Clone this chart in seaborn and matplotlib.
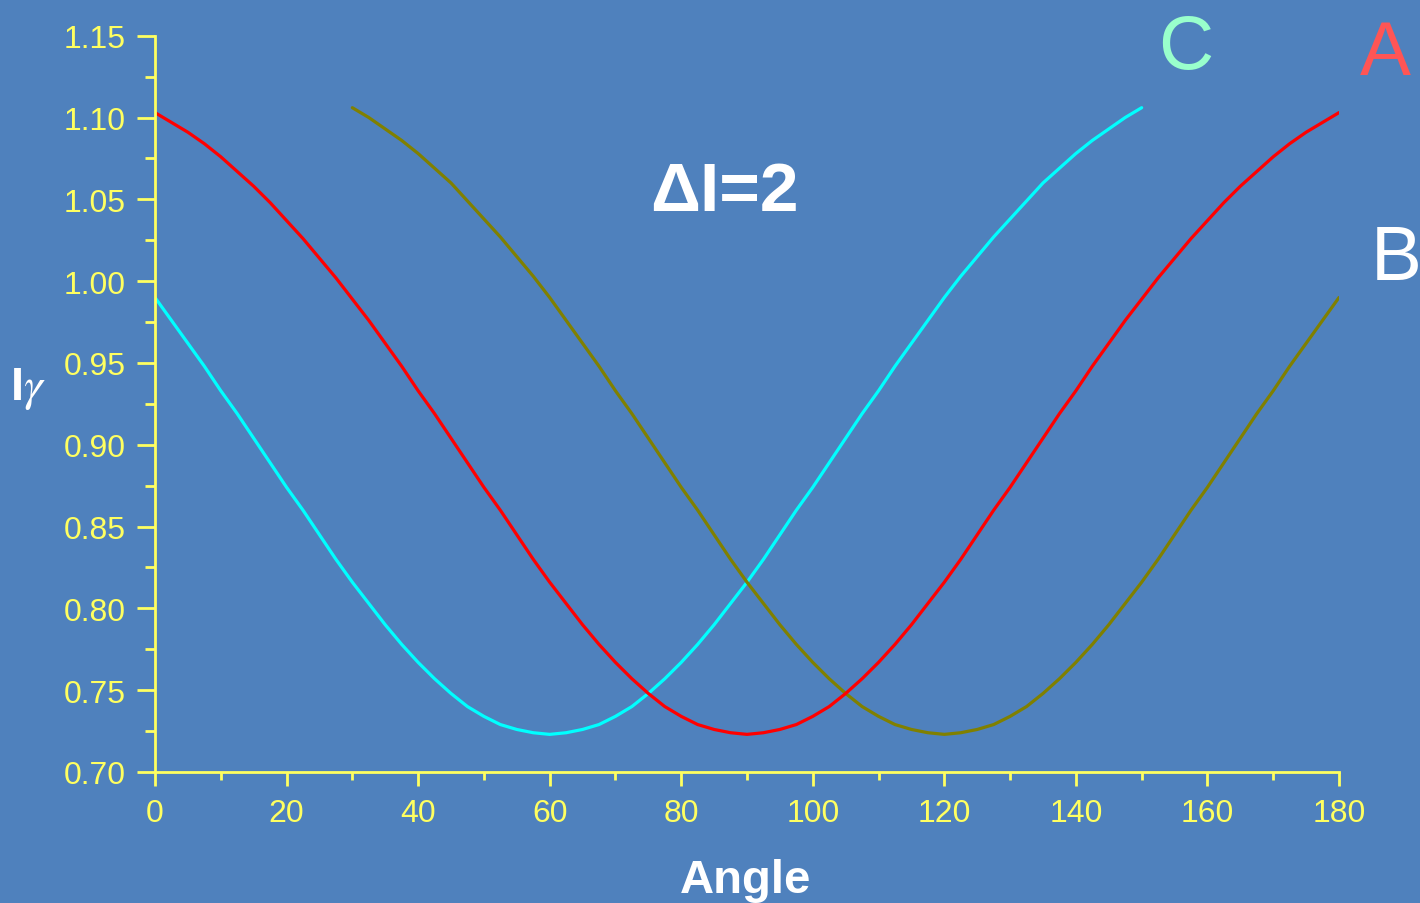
import numpy as np
import pandas as pd
import seaborn as sns
import matplotlib.pyplot as plt
from matplotlib.ticker import MultipleLocator

# curve A (red), read every 2.5 degrees, 0..180
angle_a = np.arange(0, 180.1, 2.5)
int_a = [1.103, 1.097, 1.091, 1.084, 1.076, 1.067, 1.058, 1.048, 1.037, 1.026,
         1.014, 1.002, 0.989, 0.976, 0.962, 0.948, 0.933, 0.919, 0.904, 0.889,
         0.874, 0.860, 0.845, 0.830, 0.816, 0.803, 0.790, 0.778, 0.767, 0.757,
         0.748, 0.740, 0.734, 0.729, 0.726, 0.724, 0.723, 0.724, 0.726, 0.729,
         0.734, 0.740, 0.748, 0.757, 0.767, 0.778, 0.790, 0.803, 0.816, 0.830,
         0.845, 0.860, 0.874, 0.889, 0.904, 0.919, 0.933, 0.948, 0.962, 0.976,
         0.989, 1.002, 1.014, 1.026, 1.037, 1.048, 1.058, 1.067, 1.076, 1.084,
         1.091, 1.097, 1.103]

# curve B (olive), 30..180
angle_b = np.arange(30, 180.1, 2.5)
int_b = [1.106, 1.100, 1.093, 1.086, 1.078, 1.069, 1.060, 1.049, 1.038, 1.027,
         1.015, 1.003, 0.990, 0.976, 0.962, 0.948, 0.933, 0.919, 0.904, 0.889,
         0.874, 0.860, 0.845, 0.830, 0.816, 0.803, 0.790, 0.778, 0.767, 0.757,
         0.748, 0.740, 0.734, 0.729, 0.726, 0.724, 0.723, 0.724, 0.726, 0.729,
         0.734, 0.740, 0.748, 0.757, 0.767, 0.778, 0.790, 0.803, 0.816, 0.830,
         0.845, 0.860, 0.874, 0.889, 0.904, 0.919, 0.933, 0.948, 0.962, 0.976,
         0.990]

# curve C (cyan), 0..150
angle_c = np.arange(0, 150.1, 2.5)
int_c = [0.990, 0.976, 0.962, 0.948, 0.933, 0.919, 0.904, 0.889, 0.874, 0.860,
         0.845, 0.830, 0.816, 0.803, 0.790, 0.778, 0.767, 0.757, 0.748, 0.740,
         0.734, 0.729, 0.726, 0.724, 0.723, 0.724, 0.726, 0.729, 0.734, 0.740,
         0.748, 0.757, 0.767, 0.778, 0.790, 0.803, 0.816, 0.830, 0.845, 0.860,
         0.874, 0.889, 0.904, 0.919, 0.933, 0.948, 0.962, 0.976, 0.990, 1.003,
         1.015, 1.027, 1.038, 1.049, 1.060, 1.069, 1.078, 1.086, 1.093, 1.100,
         1.106]

bg = "#4F81BD"
yellow = "#FFFF60"

sns.set_theme(style="ticks")
plt.rcParams["font.family"] = ["Liberation Sans", "DejaVu Sans"]
plt.rcParams["mathtext.fontset"] = "stix"

fig = plt.figure(figsize=(14.2, 9.04), dpi=100, facecolor=bg)
ax = fig.add_axes([155 / 1420, 131 / 904, 1184 / 1420, 736.3 / 904])
ax.set_facecolor(bg)

df_a = pd.DataFrame({"angle": angle_a, "I": int_a})
df_b = pd.DataFrame({"angle": angle_b, "I": int_b})
df_c = pd.DataFrame({"angle": angle_c, "I": int_c})

sns.lineplot(data=df_c, x="angle", y="I", color="#00FFFF", lw=2.3, ax=ax)
sns.lineplot(data=df_b, x="angle", y="I", color="#808000", lw=2.3, ax=ax)
sns.lineplot(data=df_a, x="angle", y="I", color="#FF0000", lw=2.3, ax=ax)

ax.set_xlim(0, 180)
ax.set_ylim(0.70, 1.15)
ax.xaxis.set_major_locator(MultipleLocator(20))
ax.xaxis.set_minor_locator(MultipleLocator(10))
ax.yaxis.set_major_locator(MultipleLocator(0.05))
ax.yaxis.set_minor_locator(MultipleLocator(0.025))
ax.yaxis.set_major_formatter(plt.FormatStrFormatter("%.2f"))

for s in ["top", "right"]:
    ax.spines[s].set_visible(False)
for s in ["left", "bottom"]:
    ax.spines[s].set_color(yellow)
    ax.spines[s].set_linewidth(2)

ax.tick_params(axis="both", which="both", colors=yellow, width=2, labelsize=23)
ax.tick_params(axis="y", which="major", length=13, pad=8)
ax.tick_params(axis="y", which="minor", length=7)
ax.tick_params(axis="x", which="major", length=10, pad=9)
ax.tick_params(axis="x", which="minor", length=6)

ax.set_xlabel("Angle", color="white", fontsize=34, fontweight="bold", va="baseline")
ax.xaxis.set_label_coords(0.499, -0.163)
ax.set_ylabel(r"I$\gamma$", color="white", fontsize=34, fontweight="bold",
              rotation=0, ha="center", va="baseline")
ax.yaxis.set_label_coords(-0.107, 0.506)

ax.text(86.5, 1.0433, "ΔI=2", color="white", fontsize=50, fontweight="bold",
        ha="center", va="baseline")
ax.text(156.7, 1.1304, "C", color="#99FFCC", fontsize=55, ha="center",
        va="baseline", clip_on=False)
ax.text(187.1, 1.1267, "A", color="#FF5555", fontsize=55, ha="center",
        va="baseline", clip_on=False)
ax.text(188.7, 1.0016, "B", color="white", fontsize=55, ha="center",
        va="baseline", clip_on=False)

fig.savefig("out.png", dpi=100, facecolor=bg)
